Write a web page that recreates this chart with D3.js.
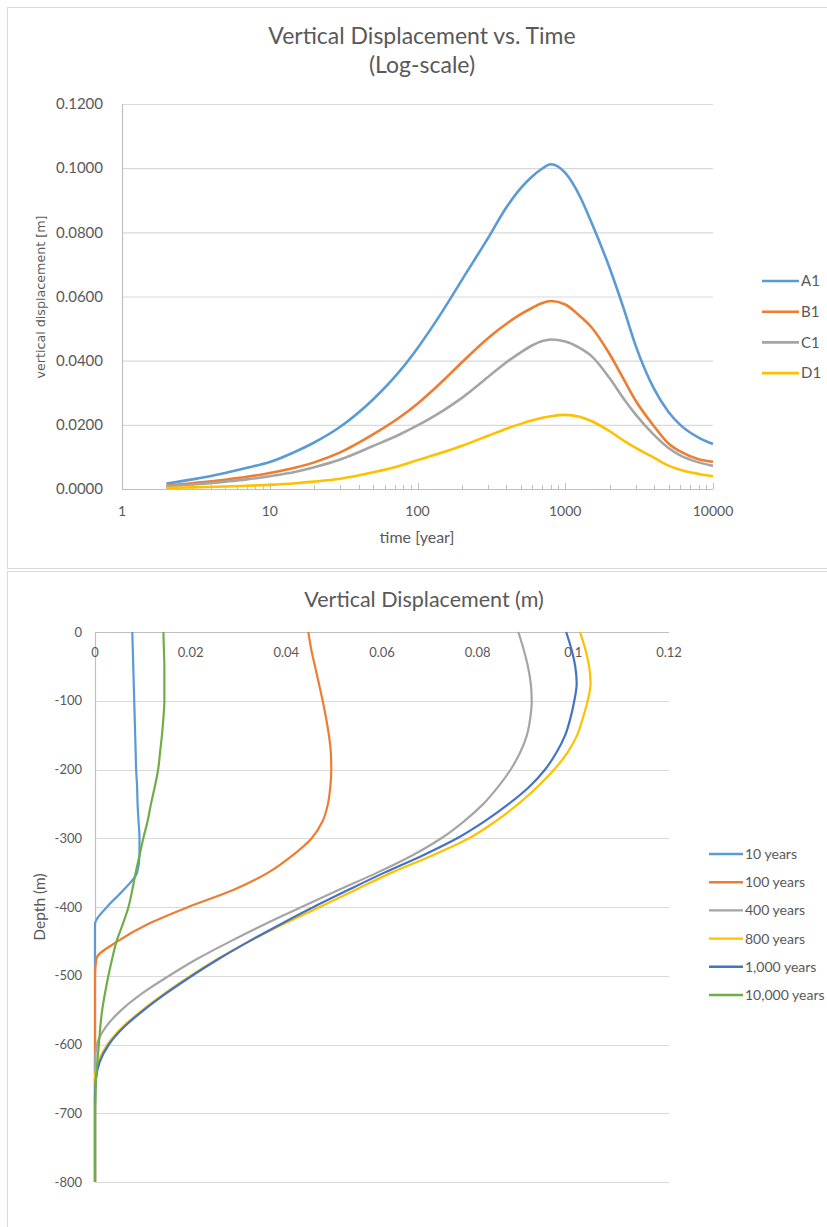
<!DOCTYPE html>
<html>
<head>
<meta charset="utf-8">
<script src="https://cdn.jsdelivr.net/npm/d3@7"></script>
<style>
  body { margin: 0; background: #ffffff; }
  text { font-family: Lato, "Open Sans", sans-serif; fill: #595959; }
</style>
</head>
<body>
<div id="chart"></div>
<script>
// ---- top chart data (time in years, displacement in m) ----
const times = [2, 3, 5, 7, 10, 15, 20, 30, 50, 75, 100, 150, 200, 300, 400, 500, 600, 700, 800, 1000, 1250, 1500, 2000, 2500, 3000, 4000, 5000, 6000, 8000, 10000];
const seriesA1 = [0.0017, 0.0030, 0.0050, 0.0066, 0.0084, 0.0117, 0.0145, 0.0194, 0.0279, 0.0365, 0.0439, 0.0559, 0.0652, 0.0782, 0.0878, 0.0938, 0.0975, 0.0999, 0.1012, 0.0985, 0.0914, 0.0832, 0.0688, 0.0559, 0.0446, 0.0311, 0.0240, 0.0200, 0.0160, 0.0140];
const seriesB1 = [0.0010, 0.0018, 0.0029, 0.0038, 0.0050, 0.0067, 0.0083, 0.0114, 0.0170, 0.0222, 0.0266, 0.0339, 0.0395, 0.0470, 0.0515, 0.0545, 0.0565, 0.0580, 0.0586, 0.0575, 0.0540, 0.0505, 0.0420, 0.0340, 0.0275, 0.0195, 0.0142, 0.0117, 0.0093, 0.0085];
const seriesC1 = [0.0009, 0.0014, 0.0023, 0.0030, 0.0040, 0.0054, 0.0068, 0.0092, 0.0134, 0.0169, 0.0198, 0.0245, 0.0284, 0.0349, 0.0395, 0.0426, 0.0448, 0.0461, 0.0466, 0.0460, 0.0440, 0.0415, 0.0345, 0.0280, 0.0232, 0.0168, 0.0128, 0.0105, 0.0083, 0.0072];
const seriesD1 = [0.0003, 0.0005, 0.0008, 0.0010, 0.0013, 0.0018, 0.0023, 0.0032, 0.0052, 0.0072, 0.0090, 0.0115, 0.0135, 0.0166, 0.0188, 0.0203, 0.0214, 0.0222, 0.0227, 0.0231, 0.0225, 0.0212, 0.0180, 0.0150, 0.0128, 0.0097, 0.0073, 0.0060, 0.0047, 0.0040];
const topNames = ["A1", "B1", "C1", "D1"];
const topColors = ["#5B9BD5", "#ED7D31", "#A5A5A5", "#FFC000"];
const topYTicks = [0, 0.02, 0.04, 0.06, 0.08, 0.1, 0.12];
const topXTicks = [1, 10, 100, 1000, 10000];

// ---- bottom chart data (depth in m, displacement in m) ----
const depths = [0, -25, -50, -75, -100, -125, -150, -175, -200, -225, -250, -275, -300, -325, -350, -375, -400, -425, -450, -475, -500, -525, -550, -575, -600, -625, -650, -675, -700, -725, -750, -775, -800];
const yr10 = [0.0078, 0.0079, 0.0080, 0.0081, 0.0082, 0.0083, 0.0084, 0.0085, 0.0086, 0.0088, 0.0089, 0.0091, 0.0093, 0.0093, 0.0088, 0.0060, 0.0025, 0, 0, 0, 0, 0, 0, 0, 0, 0, 0, 0, 0, 0, 0, 0, 0];
const yr100 = [0.0446, 0.0452, 0.0460, 0.0468, 0.0476, 0.0483, 0.0489, 0.0493, 0.0494, 0.0492, 0.0487, 0.0476, 0.0453, 0.0413, 0.0362, 0.0290, 0.0195, 0.0110, 0.0047, 0.0003, 0, 0, 0, 0, 0, 0, 0, 0, 0, 0, 0, 0, 0];
const yr400 = [0.0885, 0.0896, 0.0905, 0.0911, 0.0913, 0.0910, 0.0903, 0.0889, 0.0869, 0.0843, 0.0812, 0.0772, 0.0724, 0.0663, 0.0590, 0.0510, 0.0432, 0.0355, 0.0283, 0.0215, 0.0155, 0.0100, 0.0055, 0.0022, 0.0004, 0, 0, 0, 0, 0, 0, 0, 0];
const yr800 = [0.1014, 0.1025, 0.1033, 0.1036, 0.1030, 0.1020, 0.1008, 0.0988, 0.0960, 0.0925, 0.0885, 0.0838, 0.0782, 0.0705, 0.0620, 0.0545, 0.0470, 0.0393, 0.0322, 0.0258, 0.0200, 0.0147, 0.0099, 0.0057, 0.0026, 0.0007, 0, 0, 0, 0, 0, 0, 0];
const yr1000 = [0.0985, 0.0996, 0.1004, 0.1007, 0.1002, 0.0994, 0.0983, 0.0965, 0.0941, 0.0908, 0.0865, 0.0815, 0.0757, 0.0685, 0.0605, 0.0530, 0.0457, 0.0388, 0.0322, 0.0260, 0.0203, 0.0150, 0.0102, 0.0060, 0.0029, 0.0010, 0.0002, 0, 0, 0, 0, 0, 0];
const yr10000 = [0.0143, 0.0144, 0.0145, 0.0145, 0.0145, 0.0143, 0.0140, 0.0136, 0.0132, 0.0125, 0.0117, 0.0110, 0.0101, 0.0093, 0.0085, 0.0078, 0.0070, 0.0058, 0.0045, 0.0036, 0.0028, 0.0021, 0.0015, 0.0011, 0.0008, 0.0005, 0.0002, 0.0001, 0, 0, 0, 0, 0];
const botNames = ["10 years", "100 years", "400 years", "800 years", "1,000 years", "10,000 years"];
const botColors = ["#5B9BD5", "#ED7D31", "#A5A5A5", "#FFC000", "#4472C4", "#70AD47"];
const botXTicks = [0, 0.02, 0.04, 0.06, 0.08, 0.1, 0.12];
const botYTicks = [0, -100, -200, -300, -400, -500, -600, -700, -800];

const width = 827, height = 1227;
const svg = d3.select("#chart").append("svg")
  .attr("width", width)
  .attr("height", height);

// chart frames
svg.append("rect").attr("x", 7.5).attr("y", 7.5).attr("width", 830).attr("height", 561)
  .attr("fill", "#fff").attr("stroke", "#D9D9D9");
svg.append("rect").attr("x", 7.5).attr("y", 571.5).attr("width", 830).attr("height", 670)
  .attr("fill", "#fff").attr("stroke", "#D9D9D9");

// ================= TOP: displacement vs time =================
const x = d3.scaleLog().domain([1, 10000]).range([122, 713]);
const y = d3.scaleLinear().domain([0, 0.12]).range([489, 104]);

const topG = svg.append("g");

topG.append("text").attr("x", 422).attr("y", 44).attr("text-anchor", "middle")
  .style("font-size", "23px").text("Vertical Displacement vs. Time");
topG.append("text").attr("x", 422).attr("y", 73).attr("text-anchor", "middle")
  .style("font-size", "23px").text("(Log-scale)");

// horizontal gridlines
topG.append("g").selectAll("line").data(topYTicks.slice(1)).enter().append("line")
  .attr("x1", x(1)).attr("x2", x(10000))
  .attr("y1", d => y(d) + 0.5).attr("y2", d => y(d) + 0.5)
  .attr("stroke", "#D9D9D9").attr("stroke-width", 1.2);

// axes lines
topG.append("line").attr("x1", x(1) + 0.5).attr("x2", x(1) + 0.5).attr("y1", y(0.12)).attr("y2", y(0))
  .attr("stroke", "#BFBFBF").attr("stroke-width", 1.2);
topG.append("line").attr("x1", x(1)).attr("x2", x(10000)).attr("y1", y(0) + 0.5).attr("y2", y(0) + 0.5)
  .attr("stroke", "#BFBFBF").attr("stroke-width", 1.2);

// log ticks (minor ones inside, short)
const logTicks = x.ticks();
topG.append("g").selectAll("line").data(logTicks).enter().append("line")
  .attr("x1", d => Math.round(x(d)) + 0.5).attr("x2", d => Math.round(x(d)) + 0.5)
  .attr("y1", y(0)).attr("y2", d => topXTicks.includes(d) ? y(0) - 6 : y(0) - 4)
  .attr("stroke", "#BFBFBF");

topG.append("g").selectAll("text").data(topYTicks).enter().append("text")
  .attr("x", 103).attr("y", d => y(d)).attr("dy", "0.35em")
  .attr("text-anchor", "end").style("font-size", "15px")
  .text(d => d3.format(".4f")(d));

topG.append("g").selectAll("text").data(topXTicks).enter().append("text")
  .attr("x", d => x(d)).attr("y", 511).attr("dy", "0.35em")
  .attr("text-anchor", "middle").style("font-size", "14px")
  .text(d => d);

topG.append("text").attr("x", 417).attr("y", 537).attr("dy", "0.35em").attr("text-anchor", "middle")
  .style("font-size", "16px").text("time [year]");
topG.append("text").attr("transform", "translate(41,297) rotate(-90)").attr("dy", "0.35em")
  .attr("text-anchor", "middle").style("font-size", "12.7px").style("font-family", "'DejaVu Sans', sans-serif")
  .text("vertical displacement [m]");

const topSeries = [seriesA1, seriesB1, seriesC1, seriesD1];
const topLine = d3.line()
  .x((d, i) => x(times[i]))
  .y(d => y(d))
  .curve(d3.curveMonotoneX);

topG.append("g").selectAll("path").data(topSeries).enter().append("path")
  .attr("d", topLine)
  .attr("fill", "none")
  .attr("stroke", (d, i) => topColors[i])
  .attr("stroke-width", 2.6)
  .attr("stroke-linejoin", "round");

const topLegend = topG.append("g").selectAll("g").data(topNames).enter().append("g")
  .attr("transform", (d, i) => "translate(762," + (281 + i * 30.7) + ")");
topLegend.append("line").attr("x1", 0).attr("x2", 37)
  .attr("stroke", (d, i) => topColors[i]).attr("stroke-width", 2.6);
topLegend.append("text").attr("x", 39).attr("dy", "0.35em").style("font-size", "15px").text(d => d);

// ================= BOTTOM: displacement vs depth =================
const bx = d3.scaleLinear().domain([0, 0.12]).range([95, 669]);
const by = d3.scaleLinear().domain([-800, 0]).range([1182, 632]);

const botG = svg.append("g");

botG.append("text").attr("x", 424).attr("y", 599).attr("dy", "0.35em").attr("text-anchor", "middle")
  .style("font-size", "21.5px").text("Vertical Displacement (m)");

botG.append("g").selectAll("line").data(botYTicks.slice(1)).enter().append("line")
  .attr("x1", bx(0)).attr("x2", bx(0.12))
  .attr("y1", d => Math.round(by(d)) + 0.5).attr("y2", d => Math.round(by(d)) + 0.5)
  .attr("stroke", "#D9D9D9").attr("stroke-width", 1.2);

botG.append("line").attr("x1", bx(0)).attr("x2", bx(0.12)).attr("y1", by(0) + 0.5).attr("y2", by(0) + 0.5)
  .attr("stroke", "#BFBFBF").attr("stroke-width", 1.2);
botG.append("line").attr("x1", bx(0) + 0.5).attr("x2", bx(0) + 0.5).attr("y1", by(0)).attr("y2", by(-800))
  .attr("stroke", "#BFBFBF").attr("stroke-width", 1.2);

botG.append("g").selectAll("text").data(botXTicks).enter().append("text")
  .attr("x", d => bx(d)).attr("y", 652).attr("dy", "0.35em")
  .attr("text-anchor", "middle").style("font-size", "13px")
  .text(d => String(+d.toFixed(2)));

botG.append("g").selectAll("text").data(botYTicks).enter().append("text")
  .attr("x", 82).attr("y", d => by(d)).attr("dy", "0.35em")
  .attr("text-anchor", "end").style("font-size", "13px")
  .text(d => d);

botG.append("text").attr("transform", "translate(40,907) rotate(-90)").attr("dy", "0.35em")
  .attr("text-anchor", "middle").style("font-size", "15.5px").text("Depth (m)");

const botSeries = [yr10, yr100, yr400, yr800, yr1000, yr10000];
const botLine = d3.line()
  .x(d => bx(d))
  .y((d, i) => by(depths[i]))
  .curve(d3.curveMonotoneY);

botG.append("g").selectAll("path").data(botSeries).enter().append("path")
  .attr("d", botLine)
  .attr("fill", "none")
  .attr("stroke", (d, i) => botColors[i])
  .attr("stroke-width", 2.2)
  .attr("stroke-linejoin", "round");

const botLegend = botG.append("g").selectAll("g").data(botNames).enter().append("g")
  .attr("transform", (d, i) => "translate(709," + (854 + i * 28.2) + ")");
botLegend.append("line").attr("x1", 0).attr("x2", 34)
  .attr("stroke", (d, i) => botColors[i]).attr("stroke-width", 2.4);
botLegend.append("text").attr("x", 36).attr("dy", "0.35em").style("font-size", "14px").text(d => d);
</script>
</body>
</html>
